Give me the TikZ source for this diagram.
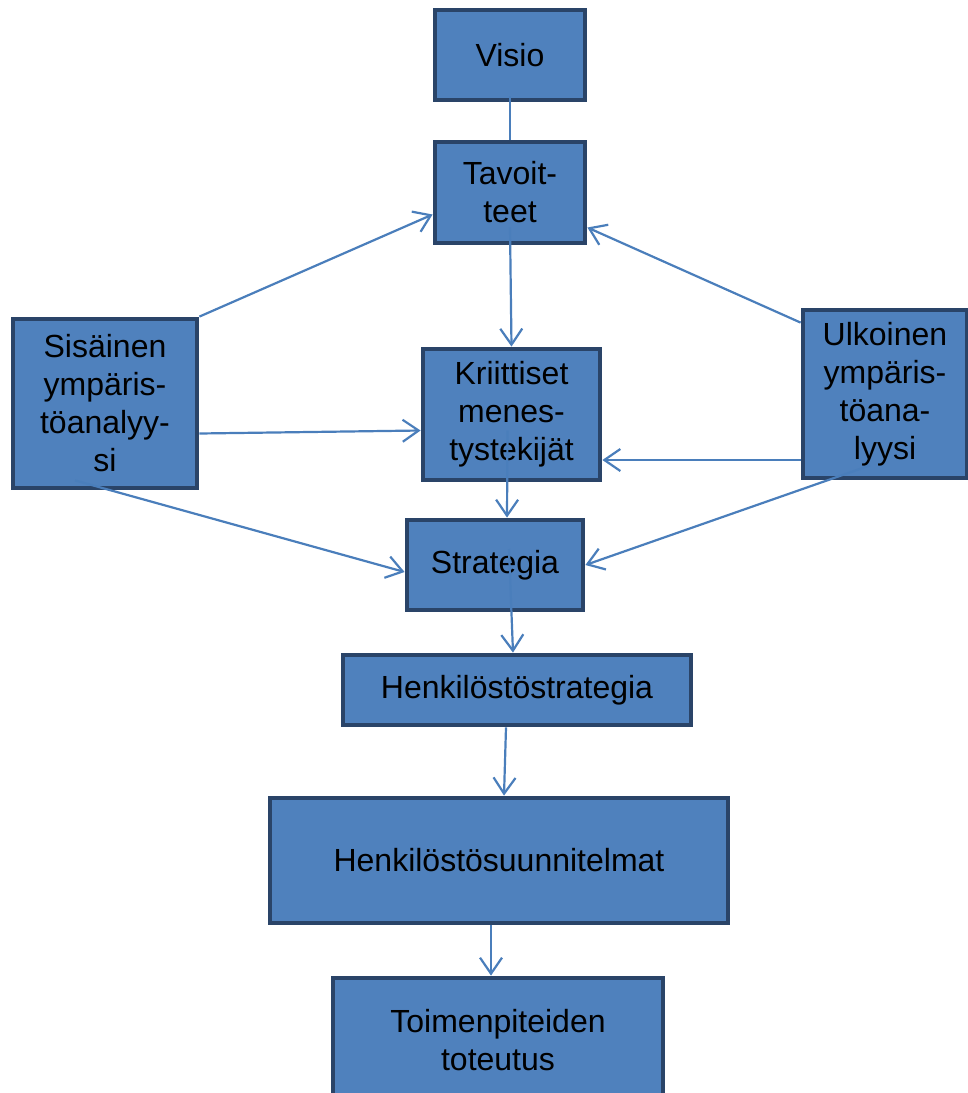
\documentclass[tikz,border=0pt]{standalone}
\usepackage{fontspec}
\setmainfont{Liberation Sans}
\usetikzlibrary{arrows.meta}

\definecolor{boxfill}{HTML}{4F81BD}
\definecolor{boxedge}{HTML}{2A4468}
\definecolor{linkcol}{HTML}{4A7EBB}

\begin{document}
\begin{tikzpicture}[x=0.5pt,y=-0.5pt,
    box/.style={rectangle,draw=boxedge,fill=boxfill,line width=2.4pt,align=center,
      inner sep=0pt,font=\fontsize{16pt}{19pt}\selectfont},
    link/.style={draw=linkcol,line width=1.1pt},
    >={Straight Barb[length=8pt,width=11pt]}]
  \clip (0,0) rectangle (968,1093);

  \node[box,minimum width=75pt,minimum height=45pt]     (visio)         at (510,55)    {Visio};
  \node[box,minimum width=75pt,minimum height=50.5pt]   (tavoitteet)    at (510,192.5) {Tavoit-\\teet};
  \node[box,minimum width=88.5pt,minimum height=65.5pt] (kriittiset)    at (511.5,414.5) {Kriittiset\\menes-\\tystekijät};
  \node[box,minimum width=92pt,minimum height=84.5pt]   (sisainen)      at (105,403.5) {Sisäinen\\ympäris-\\töanalyy-\\si};
  \node[box,minimum width=82pt,minimum height=84pt]     (ulkoinen)      at (885,394)   {Ulkoinen\\ympäris-\\töana-\\lyysi};
  \node[box,minimum width=88pt,minimum height=45pt]     (strategia)     at (495,565)   {Strategia};
  \node[box,minimum width=174pt,minimum height=35pt]    (hstrategia)    at (517,690)   {Henkilöstöstrategia};
  \node[box,minimum width=229pt,minimum height=62.5pt]  (hsuunnitelmat) at (499,860.5) {Henkilöstösuunnitelmat};
  \node[box,minimum width=165pt,minimum height=62pt]    (toimenpiteet)  at (498,1040)  {Toimenpiteiden\\toteutus};

  \draw[link]    ([yshift=3pt]visio.south) -- (tavoitteet.north);
  \draw[link,->] ([yshift=9pt]tavoitteet.south) -- (kriittiset.north);
  \draw[link,->] (sisainen.north east) -- ([yshift=-11pt]tavoitteet.west);
  \draw[link,->] ([yshift=-7.5pt]ulkoinen.north west) -- ([yshift=-17.5pt]tavoitteet.east);
  \draw[link,->] ([yshift=-15pt]sisainen.east) -- ([yshift=-8pt]kriittiset.west);
  \draw[link,->] ([yshift=-33pt]ulkoinen.west) -- ([yshift=-22.75pt]kriittiset.east);
  \draw[link,->] ([xshift=-15pt,yshift=5pt]sisainen.south) -- ([yshift=-3.5pt]strategia.west);
  \draw[link,->] ([xshift=-7.5pt,yshift=7.5pt]ulkoinen.south) -- (strategia.east);
  \draw[link,->] ([xshift=-2pt,yshift=-8pt]kriittiset.center) -- ([xshift=6pt]strategia.north);
  \draw[link,->] ([xshift=7pt,yshift=8pt]strategia.center) -- ([xshift=-2pt]hstrategia.north);
  \draw[link,->] ([xshift=-5.5pt]hstrategia.south) -- ([xshift=2.5pt]hsuunnitelmat.north);
  \draw[link,->] ([xshift=-4pt]hsuunnitelmat.south) -- ([xshift=-3.5pt]toimenpiteet.north);
\end{tikzpicture}
\end{document}
